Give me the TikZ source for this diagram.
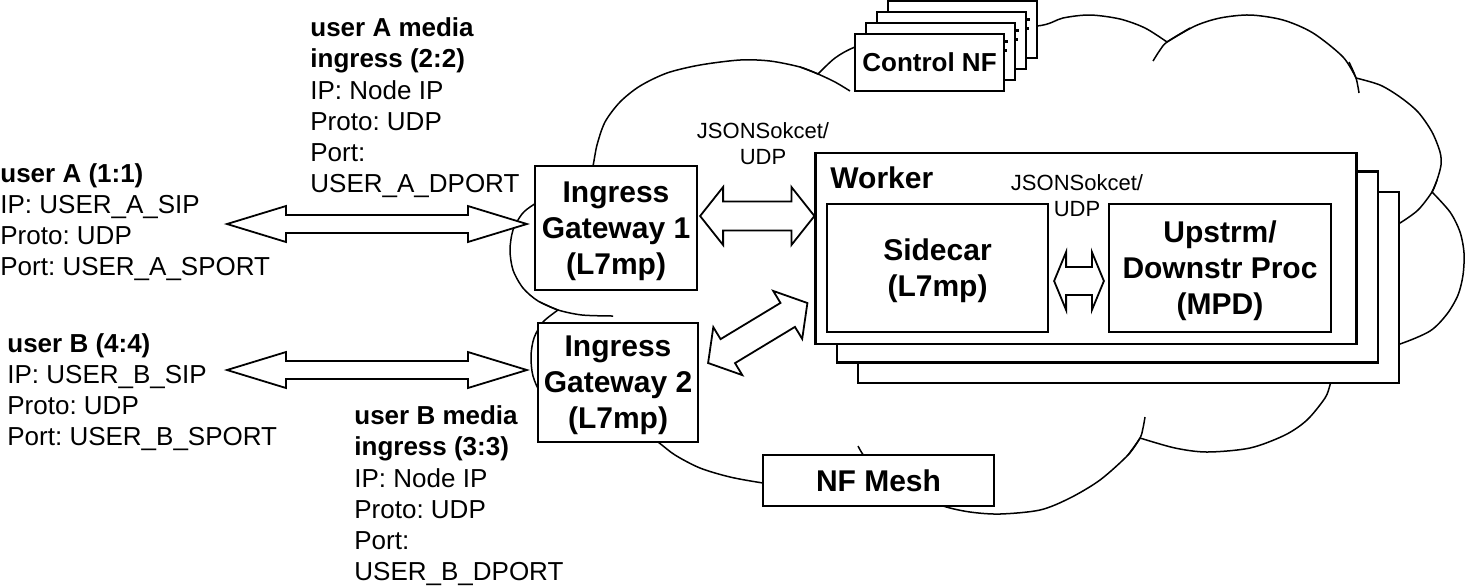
\documentclass[tikz,border=0pt]{standalone}
\usepackage{fontspec}
\setmainfont{Liberation Sans}
\usetikzlibrary{calc}
\frenchspacing
\tikzset{
  box/.style={draw, line width=1.1pt, fill=white, inner sep=0pt, align=center,
    text depth=0pt, font=\fontsize{15pt}{18pt}\selectfont\bfseries},
  cnfbox/.style={draw, line width=1.1pt, fill=white, inner sep=0pt,
    minimum width=74.5pt, minimum height=28.5pt,
    font=\fontsize{13pt}{15.5pt}\selectfont\bfseries},
  wbox/.style={draw, line width=1.1pt, fill=white, inner sep=0pt,
    minimum width=270.5pt, minimum height=95.5pt},
  cloudline/.style={line width=0.75pt, line join=round},
  blockarrow/.style={draw, fill=white, line width=0.9pt, line join=miter},
  info/.style={anchor=north west, inner sep=0pt, align=left,
    font=\fontsize{13pt}{15.6pt}\selectfont},
  smalltxt/.style={inner sep=0pt, align=center,
    font=\fontsize{11pt}{13pt}\selectfont},
  fbar/.style={fill=black, draw=none},
}
\newcommand{\bdarrow}[5]{%
  \coordinate (bdp) at ($(#1)!#5!(#2)$);
  \coordinate (bdq) at ($(#2)!#5!(#1)$);
  \draw[blockarrow] (#1) -- ($(bdp)!#4!90:(#2)$) -- ($(bdp)!#3!90:(#2)$)
    -- ($(bdq)!#3!-90:(#1)$) -- ($(bdq)!#4!-90:(#1)$) -- (#2)
    -- ($(bdq)!#4!90:(#1)$) -- ($(bdq)!#3!90:(#1)$)
    -- ($(bdp)!#3!-90:(#2)$) -- ($(bdp)!#4!-90:(#2)$) -- cycle;}
\begin{document}
\begin{tikzpicture}[x=0.5pt,y=-0.5pt]
\useasboundingbox (0,0) rectangle (1465,586);

% cloud
\draw[cloudline, fill=white] (600,420)
 -- plot[smooth] coordinates {(600,420) (565,407) (542,394) (533,376) (531,356) (534,338) (543,322) (558,310)}
 -- plot[smooth] coordinates {(558,310) (538,301) (523,288) (513,270) (510,250) (513,230) (522,214) (533,205) (555,192) (588,186)}
 -- plot[smooth] coordinates {(588,186) (593,166) (597,145) (605,122) (620,102) (640,86) (667,73) (700,65) (740,60) (770,61) (800,67) (818,74)}
 -- plot[smooth] coordinates {(818,74) (835,58) (855,47) (890,36) (960,28) (1037,26) (1063,18) (1090,15) (1120,19) (1145,28) (1167,42)}
 -- plot[smooth] coordinates {(1167,42) (1195,26) (1220,18) (1250,15) (1283,20) (1313,33) (1343,57) (1356,78)}
 -- plot[smooth] coordinates {(1356,78) (1380,85) (1400,97) (1418,112) (1432,132) (1440,152) (1441,165) (1437,180) (1432,192)}
 -- plot[smooth] coordinates {(1432,192) (1450,212) (1460,232) (1464,253) (1463,275) (1458,295) (1447,314) (1430,331) (1400,344) (1370,352) (1340,362)}
 -- plot[smooth] coordinates {(1340,362) (1333,375) (1330,385) (1325,398) (1307,420) (1285,435) (1250,448) (1207,452) (1175,448) (1140,438)}
 -- plot[smooth] coordinates {(1140,438) (1128,455) (1100,480) (1070,498) (1040,510) (1000,514) (970,512) (943,506) (910,493) (880,475)}
 -- plot[smooth] coordinates {(880,475) (840,485) (800,488) (763,483) (730,477) (700,468) (675,455) (658,442) (640,430) (600,420)}
 -- cycle;
% cloud ticks
\draw[cloudline] plot[smooth] coordinates {(540,302) (558,310) (582,315) (613,316)};
\draw[cloudline] plot[smooth] coordinates {(800,67) (818,74) (835,82) (850,91)};
\draw[cloudline] plot[smooth] coordinates {(1153,61) (1160,50) (1167,42) (1190,28)};
\draw[cloudline] plot[smooth] coordinates {(1349,62) (1356,78) (1359,93)};
\draw[cloudline] plot[smooth] coordinates {(1437,180) (1432,192) (1418,210) (1400,223) (1390,228)};
\draw[cloudline] plot[smooth] coordinates {(1145,417) (1143,428) (1140,438) (1128,455)};
\draw[cloudline] plot[smooth] coordinates {(900,490) (880,475) (864,456) (858,446)};

% worker stack
\node[wbox] (w3) at (1128.5,287.5) {};
\node[wbox] (w2) at (1107.5,267) {};
\node[wbox] (w1) at (1086,248.5) {};
\node[anchor=west, inner sep=0pt, font=\fontsize{15pt}{18pt}\selectfont\bfseries] (wlabel) at (830,178) {Worker};
\node[box, minimum width=110.5pt, minimum height=64pt] (sc) at (937.5,268) {Sidecar\\(L7mp)};
\node[box, minimum width=111pt, minimum height=64pt] (mpd) at (1220,268) {Upstrm/\\Downstr Proc\\(MPD)};
\node[smalltxt] (js2) at (1077,196) {JSONSokcet/\\UDP};

% gateways
\node[box, minimum width=81pt, minimum height=62pt] (gw1) at (616,228) {Ingress\\Gateway 1\\(L7mp)};
\node[box, minimum width=80pt, minimum height=59.5pt] (gw2) at (618,382.5) {Ingress\\Gateway 2\\(L7mp)};
\node[box, minimum width=115.5pt, minimum height=25.5pt] (mesh) at (878.5,480.5) {NF Mesh};

% control NF stack (back copies: only the tail of their hidden label shows)
\node[cnfbox] (cnf4) at (962.5,29.5) {};
\fill[fbar] (1026,18) rectangle (1030,21);
\fill[fbar] (1026,27) rectangle (1029,30);
\node[cnfbox] (cnf3) at (951.5,40.5) {};
\fill[fbar] (1015,29) rectangle (1019,32);
\fill[fbar] (1015,38) rectangle (1018,41);
\node[cnfbox] (cnf2) at (940.5,51.5) {};
\fill[fbar] (1004,40) rectangle (1008,43);
\fill[fbar] (1004,49) rectangle (1007,52);
\node[cnfbox] (cnf1) at (929.5,62.5) {Control NF};

\node[smalltxt] (js1) at (763,144) {JSONSokcet/\\UDP};

% arrow end points
\coordinate (uaL) at (227,224);
\coordinate (uaR) at ([xshift=-3.5pt,yshift=2pt]gw1.west);
\coordinate (ubL) at (227,370);
\coordinate (ubR) at ([xshift=-5pt,yshift=6.25pt]gw2.west);
\coordinate (g1R) at ([xshift=1pt,yshift=6pt]gw1.east);
\coordinate (w1L) at ([yshift=16.25pt]w1.west);
\coordinate (scR) at ([xshift=2.5pt,yshift=-6.5pt]sc.east);
\coordinate (mpdL) at ([xshift=-2pt,yshift=-6.5pt]mpd.west);
\coordinate (g2R) at ([xshift=4.5pt,yshift=9.75pt]gw2.east);
\coordinate (w1D) at ([xshift=-3.5pt,yshift=-27.25pt]w1.west);

\bdarrow{uaL}{uaR}{4.5pt}{9pt}{29.5pt}
\bdarrow{ubL}{ubR}{4.5pt}{9pt}{29.5pt}
\bdarrow{g1R}{w1L}{7.25pt}{14.5pt}{11.5pt}
\bdarrow{scR}{mpdL}{7pt}{14.5pt}{6pt}
\bdarrow{g2R}{w1D}{7pt}{14pt}{11.5pt}

% info texts
\node[info] (ua) at (0,163) {\textbf{user A (1:1)}\\IP: USER\_A\_SIP\\Proto: UDP\\Port: USER\_A\_SPORT};
\node[info] (uam) at (310,17.5) {\textbf{user A media}\\\textbf{ingress (2:2)}\\IP: Node IP\\Proto: UDP\\Port:\\USER\_A\_DPORT};
\node[info] (ub) at (7,333) {\textbf{user B (4:4)}\\IP: USER\_B\_SIP\\Proto: UDP\\Port: USER\_B\_SPORT};
\node[info] (ubm) at (354,405.5) {\textbf{user B media}\\\textbf{ingress (3:3)}\\IP: Node IP\\Proto: UDP\\Port:\\USER\_B\_DPORT};
\end{tikzpicture}
\end{document}
